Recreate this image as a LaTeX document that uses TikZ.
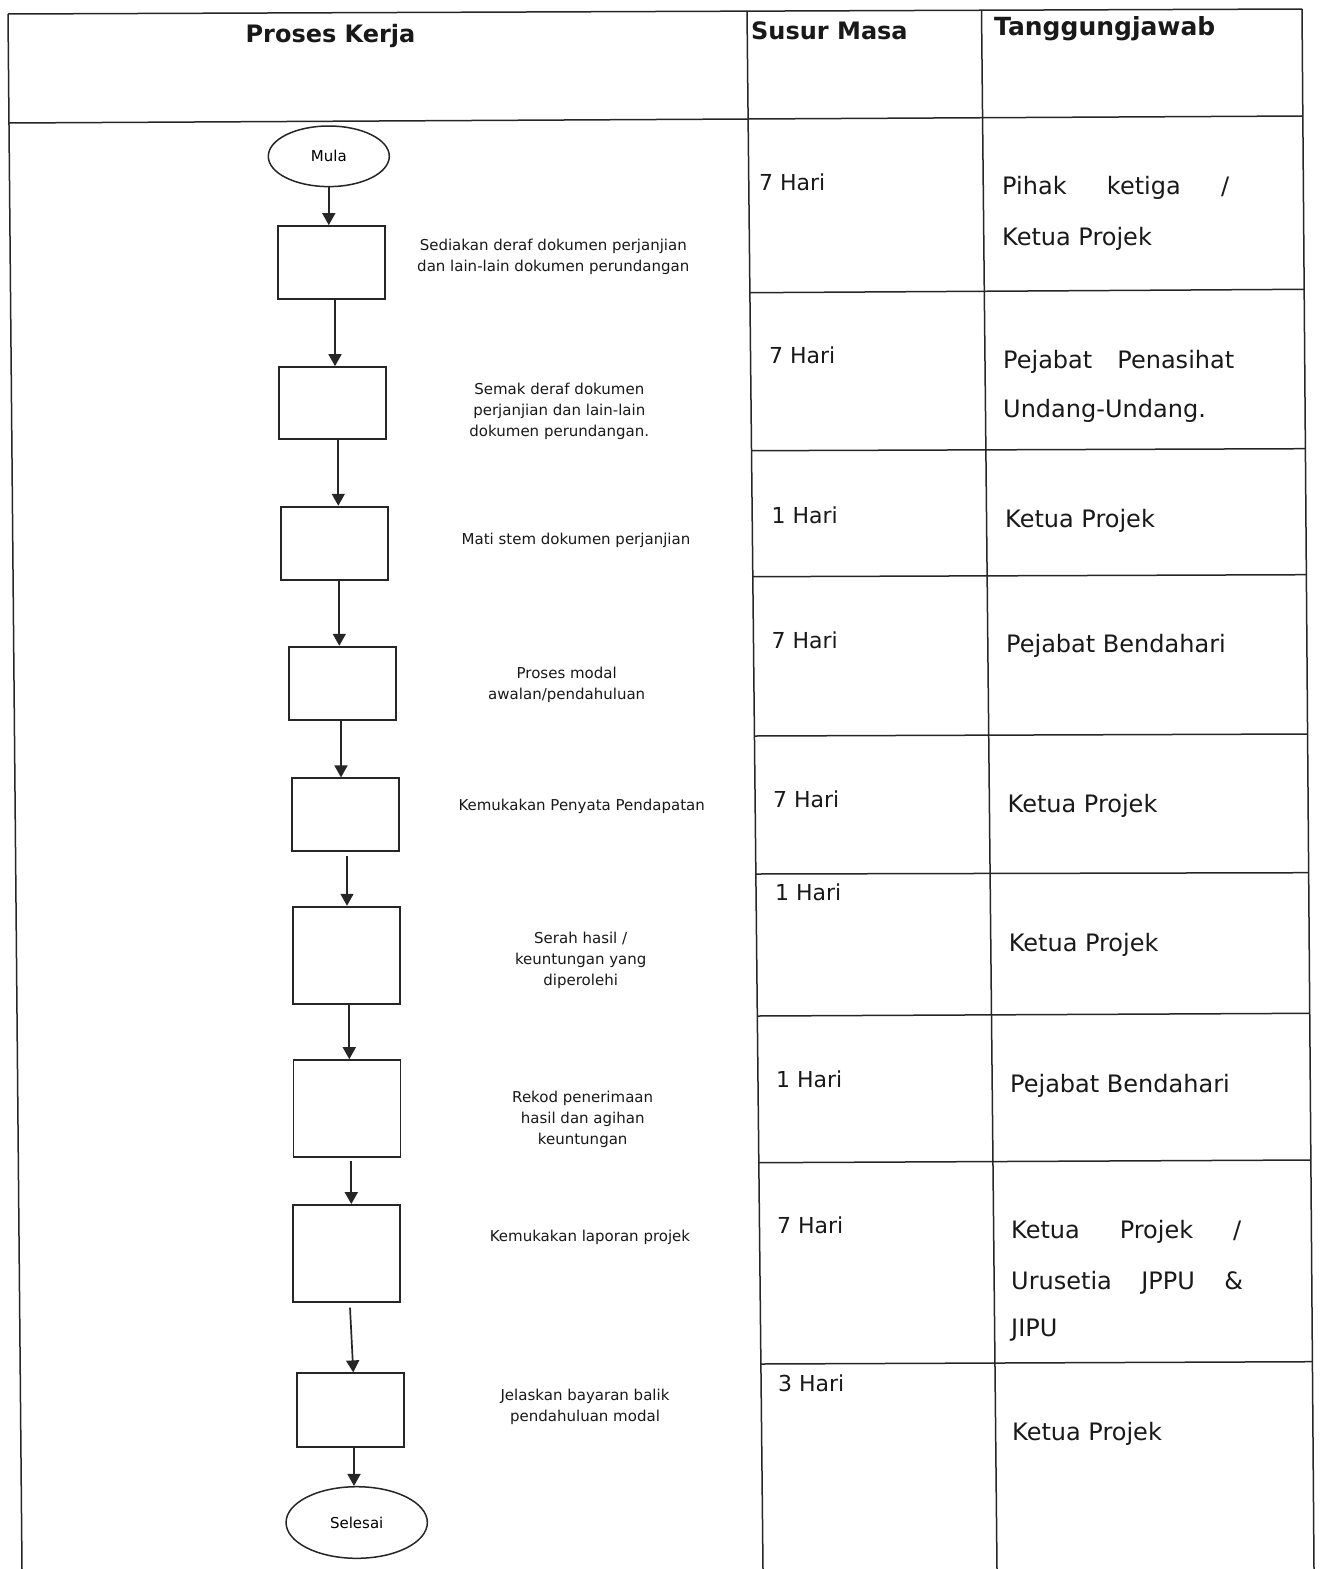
\documentclass[tikz,border=0pt]{standalone}
\usepackage{fontspec}
\setmainfont{DejaVu Sans}
\usetikzlibrary{arrows.meta,shapes.geometric,calc}
\begin{document}
\begin{tikzpicture}[x=1pt,y=-1pt,
  tbl/.style={line width=1.5pt, draw=black!85},
  procbox/.style={draw=black!85, line width=1.8pt, minimum width=107pt, inner sep=0pt},
  oval/.style={ellipse, draw=black!85, line width=1.5pt, inner sep=0pt, font=\fontsize{15}{18}\selectfont},
  arr/.style={line width=1.7pt, draw=black!85, -{Triangle[width=13pt,length=12pt]}},
  lbl/.style={align=center, font=\fontsize{15}{21}\selectfont, inner sep=0pt, text=black!90},
  hdr/.style={font=\fontsize{24}{28}\selectfont\bfseries, inner sep=0pt, text=black!90},
  cell/.style={font=\fontsize{24}{28}\selectfont, inner sep=0pt, anchor=base west, text=black!90},
  hari/.style={font=\fontsize{22}{28}\selectfont, inner sep=0pt, anchor=base west, text=black!90},
  ]
\useasboundingbox (0,0) rectangle (1320,1569);
\fill[white] (0,0) rectangle (1320,1569);

% table frame (slightly skewed as in the scan)
\draw[tbl] (8,14) -- (1302,9);
\draw[tbl] (8,14) -- (22,1569);
\draw[tbl] (747,11) -- (763,1569);
\draw[tbl] (981.5,10) -- (997,1569);
\draw[tbl] (1302,9) -- (1314,1569);
\draw[tbl] (8.8,123) -- (1302.8,116);
\draw[tbl] (749.9,292.7) -- (1304.2,289.3);
\draw[tbl] (751.5,450.7) -- (1305.4,448.7);
\draw[tbl] (752.8,576.7) -- (1306.4,574.7);
\draw[tbl] (754.4,736) -- (1307.6,734);
\draw[tbl] (755.9,874) -- (1308.7,872.7);
\draw[tbl] (757.3,1016) -- (1309.7,1013.3);
\draw[tbl] (758.8,1162.7) -- (1310.9,1160);
\draw[tbl] (760.9,1364) -- (1312.4,1361.7);

% headers
\node[hdr, anchor=base] (hpk) at (330.5,42) {Proses Kerja};
\node[hdr, anchor=base west] (hsm) at (751,39.3) {Susur Masa};
\node[hdr, anchor=base west, font=\fontsize{25}{28}\selectfont\bfseries] (htj) at (994,35) {Tanggungjawab};

% flowchart
\node[oval, minimum width=121pt, minimum height=60.6pt] (m) at (328.8,156.3) {Mula};
\node[procbox, minimum height=73pt] (b1) at (331.2,262.5) {};
\node[procbox, minimum height=72.3pt] (b2) at (332.5,403.2) {};
\node[procbox, minimum height=73.3pt] (b3) at (334.3,543.3) {};
\node[procbox, minimum height=73.3pt] (b4) at (342.5,683.3) {};
\node[procbox, minimum height=72.4pt] (b5) at (345.8,814.5) {};
\node[procbox, minimum height=97.3pt] (b6) at (346.7,955.3) {};
\node[procbox, minimum height=97.3pt] (b7) at (347,1108.7) {};
\node[procbox, minimum height=96.7pt] (b8) at (346.8,1253.3) {};
\node[procbox, minimum height=73.4pt] (b9) at (350.7,1410) {};
\node[oval, minimum width=141.3pt, minimum height=71.6pt] (s) at (356.7,1522.5) {Selesai};

\draw[arr] (m.south) -- (m.south |- b1.north);
\draw[arr] ([xshift=3.8pt]b1.south) -- ([xshift=3.8pt]b1.south |- b2.north);
\draw[arr] ([xshift=5.8pt]b2.south) -- ([xshift=5.8pt]b2.south |- b3.north);
\draw[arr] ([xshift=5pt]b3.south) -- ([xshift=5pt]b3.south |- b4.north);
\draw[arr] ([xshift=-1.5pt]b4.south) -- ([xshift=-1.5pt]b4.south |- b5.north);
\draw[arr] ([xshift=1.2pt,yshift=-4pt]b5.south) -- ([xshift=1.2pt]b5.south |- b6.north);
\draw[arr] ([xshift=2.6pt]b6.south) -- ([xshift=2.6pt]b6.south |- b7.north);
\draw[arr] ([xshift=4.3pt,yshift=-3pt]b7.south) -- ([xshift=4.3pt]b7.south |- b8.north);
\draw[arr] ([xshift=3.2pt,yshift=-5pt]b8.south) -- ([xshift=2.6pt]b9.north);
\draw[arr] ([xshift=3.3pt]b9.south) -- ([xshift=3.3pt]b9.south |- s.north);

% step labels
\node[lbl] (t1) at (553.3,257) {Sediakan deraf dokumen perjanjian\\dan lain-lain dokumen perundangan};
\node[lbl] (t2) at (559.3,411.7) {Semak deraf dokumen\\perjanjian dan lain-lain\\dokumen perundangan.};
\node[lbl] (t3) at (576,540) {Mati stem dokumen perjanjian};
\node[lbl] (t4) at (566.7,685.3) {Proses modal\\awalan/pendahuluan};
\node[lbl] (t5) at (581.7,806) {Kemukakan Penyata Pendapatan};
\node[lbl] (t6) at (580.7,960.7) {Serah hasil /\\keuntungan yang\\diperolehi};
\node[lbl] (t7) at (582.7,1119) {Rekod penerimaan\\hasil dan agihan\\keuntungan};
\node[lbl] (t8) at (590,1237.7) {Kemukakan laporan projek};
\node[lbl] (t9) at (585,1406.7) {Jelaskan bayaran balik\\pendahuluan modal};

% time column
\node[hari] (h1) at (759,190.7) {7 Hari};
\node[hari] (h2) at (769,363) {7 Hari};
\node[hari] (h3) at (771.5,523) {1 Hari};
\node[hari] (h4) at (771.5,648) {7 Hari};
\node[hari] (h5) at (773,807.3) {7 Hari};
\node[hari] (h6) at (775,900.7) {1 Hari};
\node[hari] (h7) at (776,1087.3) {1 Hari};
\node[hari] (h8) at (777,1233) {7 Hari};
\node[hari] (h9) at (778,1391.3) {3 Hari};

% responsibility column
\node[cell] (r1a) at (1002,194.8) {\makebox[227pt][s]{Pihak ketiga /}};
\node[cell] (r1b) at (1002,245.4) {Ketua Projek};
\node[cell] (r2a) at (1003,368.1) {\makebox[231pt][s]{Pejabat Penasihat}};
\node[cell] (r2b) at (1003,417.8) {Undang-Undang.};
\node[cell] (r3) at (1005,527.8) {Ketua Projek};
\node[cell] (r4) at (1006,652.8) {Pejabat Bendahari};
\node[cell] (r5) at (1007.5,812.8) {Ketua Projek};
\node[cell] (r6) at (1008.6,951.5) {Ketua Projek};
\node[cell] (r7) at (1010,1092.1) {Pejabat Bendahari};
\node[cell] (r8a) at (1011,1238.8) {\makebox[230pt][s]{Ketua Projek /}};
\node[cell] (r8b) at (1011,1289.5) {\makebox[232pt][s]{Urusetia JPPU \&}};
\node[cell] (r8c) at (1011,1336.8) {JIPU};
\node[cell] (r9) at (1012,1440.5) {Ketua Projek};
\end{tikzpicture}
\end{document}
